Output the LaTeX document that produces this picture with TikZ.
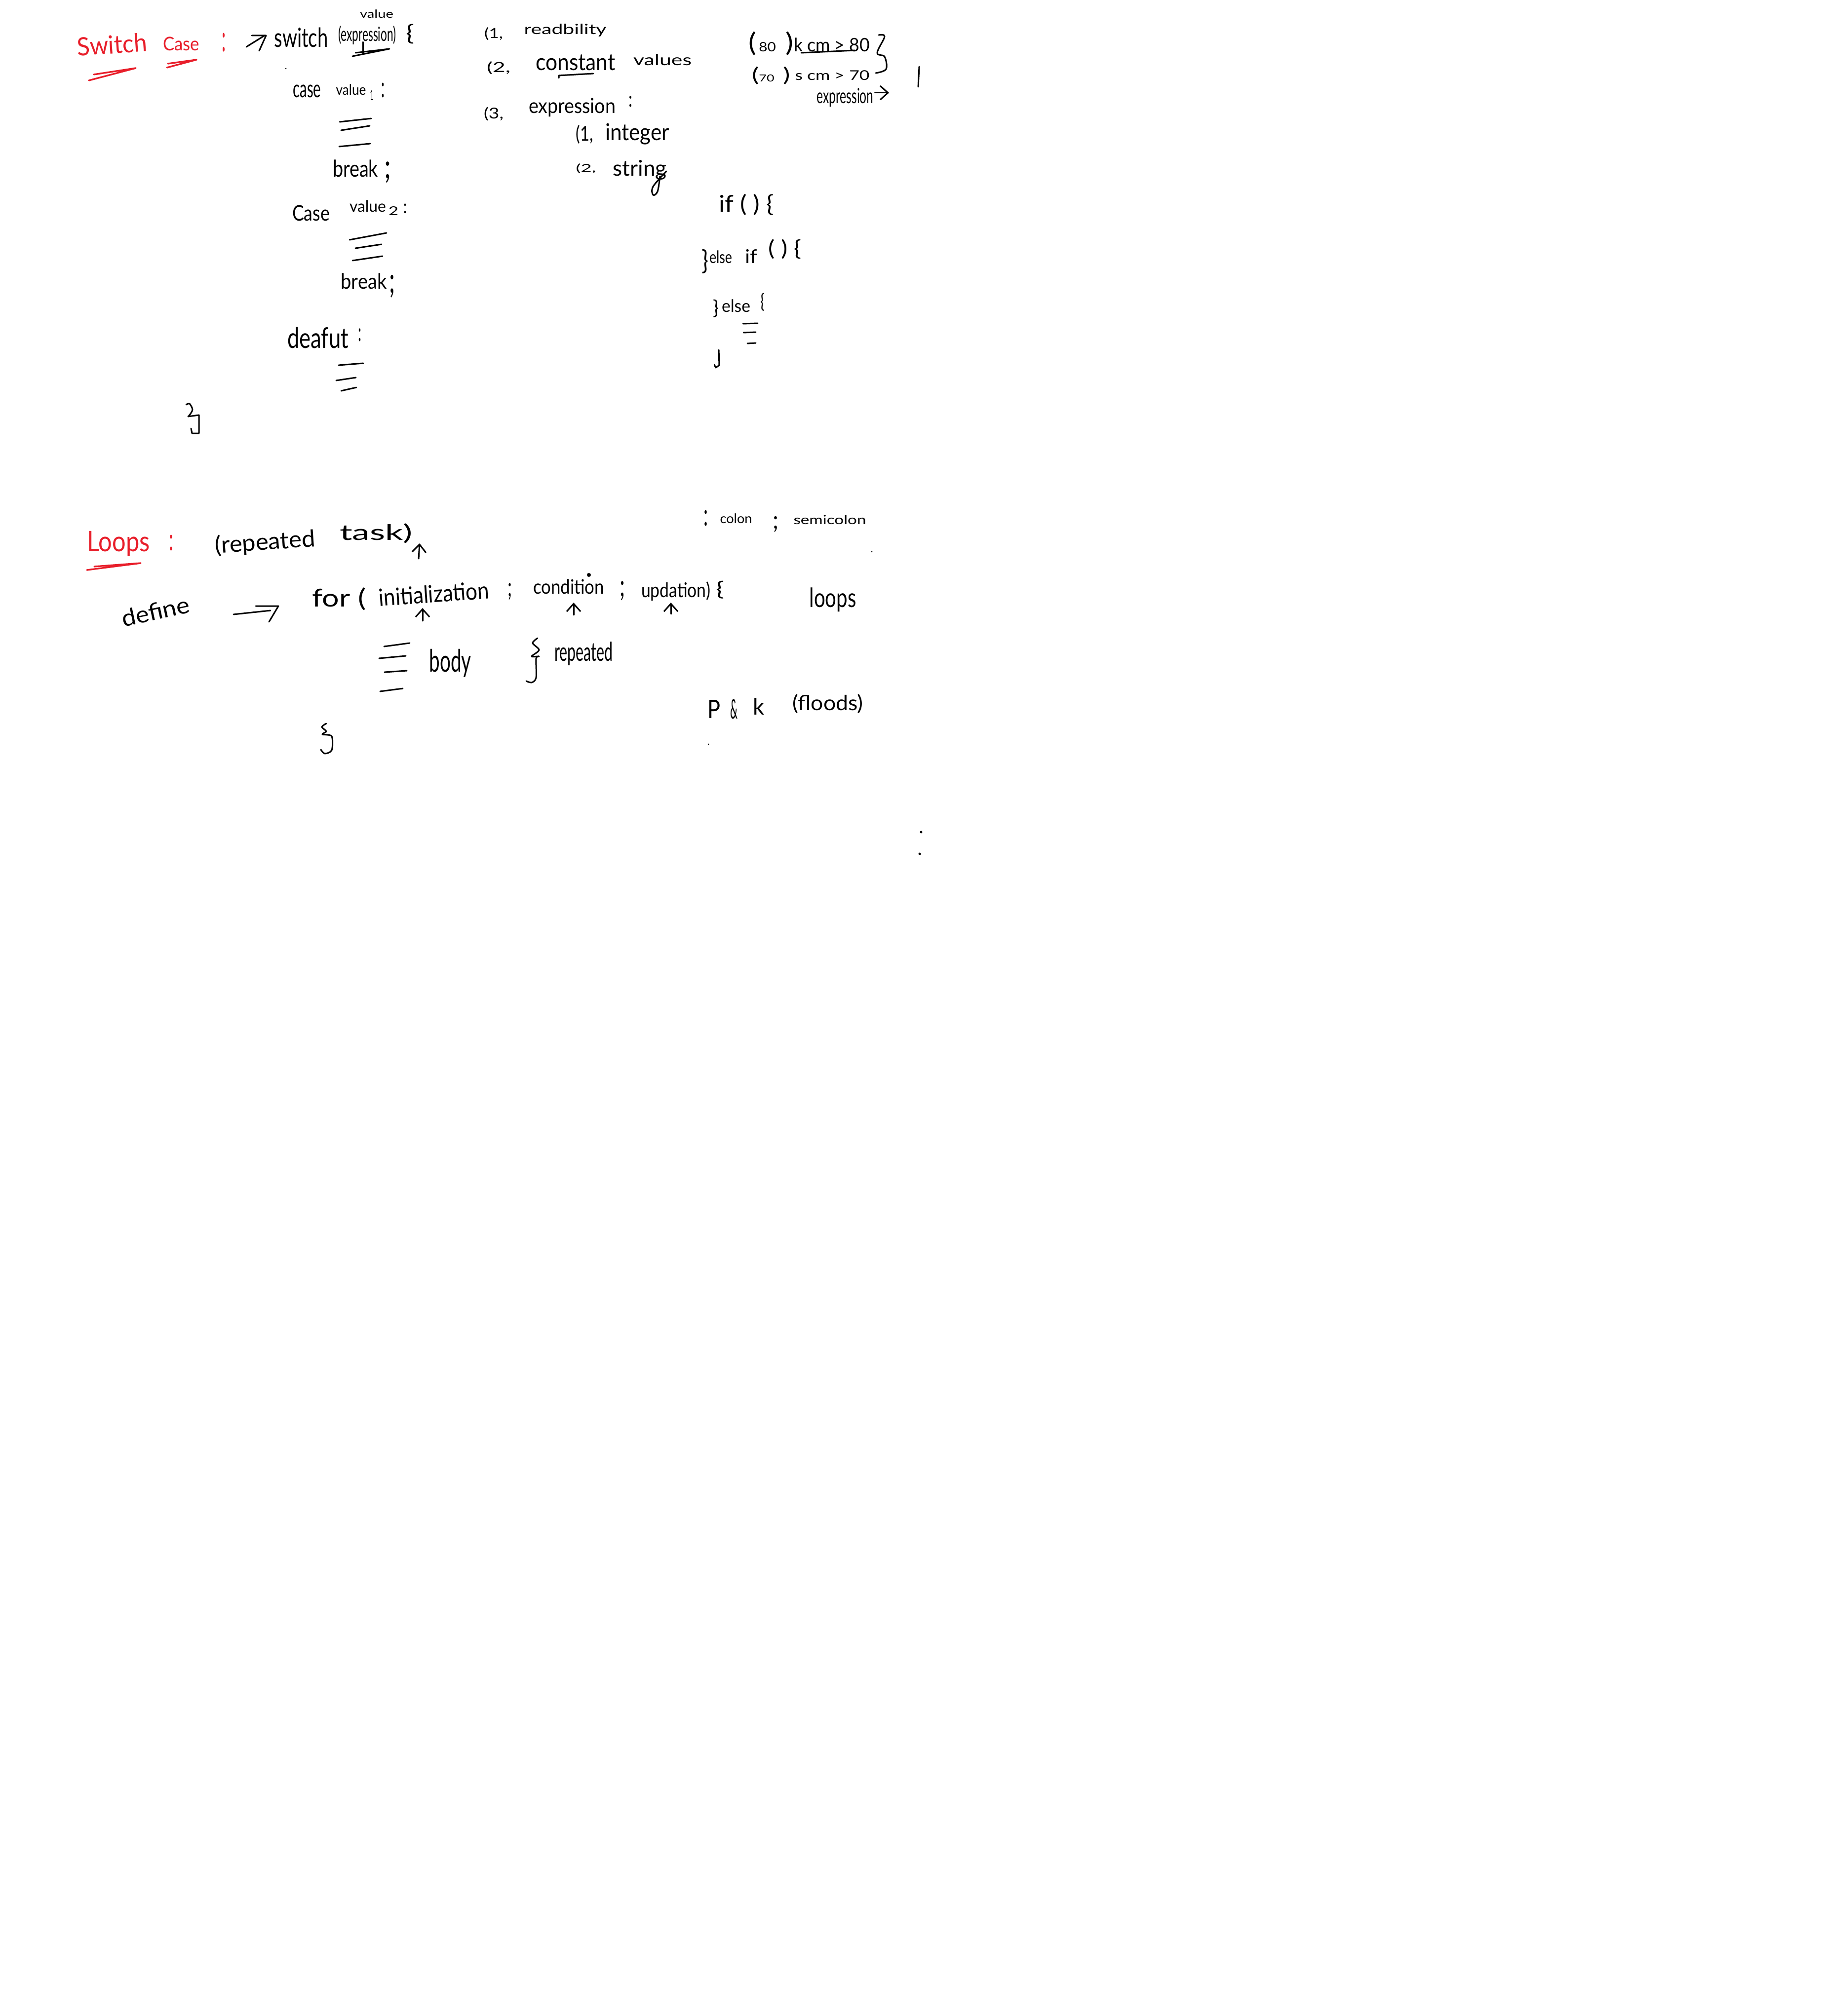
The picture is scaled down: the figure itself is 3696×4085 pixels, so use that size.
\documentclass[tikz,border=0pt]{standalone}
\usepackage{fontspec}
\usepackage{graphicx}
\setmainfont{Lato}
\usetikzlibrary{arrows.meta, positioning}
\definecolor{inkred}{RGB}{232,30,42}
\newdimen\pxunit
\pxunit=0.01cm
\newcommand{\fitto}[3]{\resizebox*{#1\pxunit}{#2\pxunit}{#3}}
\begin{document}
\begin{tikzpicture}[
        x=0.01cm, y=-0.01cm,
        hand/.style={inner sep=0pt, text=black},
        redhand/.style={inner sep=0pt, text=inkred},
        ink/.style={draw=black, line width=0.85pt, line cap=round, line join=round},
        redink/.style={draw=inkred, line width=0.95pt, line cap=round, line join=round},
        arr/.style={ink, -{Straight Barb[length=4.5pt, width=8pt]}},
        speck/.style={fill=black}
    ]
        \useasboundingbox (0,0) rectangle (3696,4085);
        % switch case heading
        \node[redhand, rotate=4] (switchhead) at (227,90) {\fitto{141}{38}{Switch}};
        \node[redhand] (casehead) at (367,89) {\fitto{74}{28}{Case}};
        \node[redhand] (headcolon) at (453,86) {\fitto{8}{38}{:}};
        \draw[redink] (180,163) -- (275,138) -- (190,151);
        \draw[redink] (338,137) -- (398,121) -- (340,129);
        \draw[ink] (499,95) -- (536,72);
        \draw[ink] (510,72) -- (539,72) -- (525,103);
        \node[hand] (switchword) at (610,76) {\fitto{109}{40}{switch}};
        \node[hand] (switchexpr) at (744,71) {\fitto{117}{38}{(expression)}};
        \node[hand] (valuetop) at (763,28) {\fitto{68}{17}{value}};
        \node[hand] (switchbrace) at (831,69) {\fitto{17}{40}{\{}};
        \draw[ink] (714,114) -- (789,99) -- (720,107);
        \draw[ink] (735,85) -- (735,110);
        \fill[speck] (579,139) circle (1.5);
        % first case
        \node[hand] (caseone) at (622,185) {\fitto{57}{26}{case}};
        \node[hand] (valueone) at (711,182) {\fitto{61}{22}{value}};
        \node[hand] (subone) at (753,193) {\fitto{7}{21}{1}};
        \node[hand] (colonone) at (776,183) {\fitto{7}{30}{:}};
        \draw[ink] (688,247) -- (752,240);
        \draw[ink] (691,264) -- (749,255);
        \draw[ink] (687,297) -- (750,291);
        \node[hand] (breakone) at (720,341) {\fitto{92}{35}{break}};
        \node[hand] (semibreakone) at (785,349) {\fitto{14}{43}{;}};
        % second case
        \node[hand] (casetwo) at (630,432) {\fitto{76}{32}{Case}};
        \node[hand] (valuetwo) at (745,418) {\fitto{74}{24}{value}};
        \node[hand] (subtwo) at (797,427) {\fitto{20}{18}{2}};
        \node[hand] (colontwo) at (821,423) {\fitto{7}{20}{:}};
        \draw[ink] (708,486) -- (783,472);
        \draw[ink] (720,503) -- (773,495);
        \draw[ink] (714,528) -- (775,519);
        \node[hand] (breaktwo) at (737,570) {\fitto{93}{32}{break}};
        \node[hand] (semibreaktwo) at (794,580) {\fitto{12}{46}{;}};
        % default case
        \node[hand] (deafut) at (644,684) {\fitto{124}{43}{deafut}};
        \node[hand] (colondeafut) at (729,679) {\fitto{7}{26}{:}};
        \draw[ink] (686,740) -- (736,736);
        \draw[ink] (681,771) -- (721,765);
        \draw[ink] (691,792) -- (722,785);
        \draw[ink] plot[smooth, tension=0.5] coordinates {(377,820) (384,818) (390,830) (384,841) (381,844)};
        \draw[ink] (381,844) -- (403,841) -- (403,878) -- (389,878) -- (387,868);
        % points on the right
        \node[hand] (numone) at (1000,69) {\fitto{38}{26}{(1,}};
        \node[hand] (readbility) at (1145,61) {\fitto{167}{26}{readbility}};
        \node[hand] (numtwo) at (1010,138) {\fitto{48}{26}{(2,}};
        \node[hand] (constant) at (1166,127) {\fitto{161}{32}{constant}};
        \node[hand] (values) at (1342,121) {\fitto{118}{23}{values}};
        \draw[ink] (1132,158) -- (1132,153) -- (1202,149);
        \node[hand] (numthree) at (1000,231) {\fitto{40}{28}{(3,}};
        \node[hand] (expression) at (1159,218) {\fitto{176}{38}{expression}};
        \node[hand] (colonexpr) at (1277,206) {\fitto{8}{22}{:}};
        \node[hand] (subnumone) at (1184,273) {\fitto{35}{38}{(1,}};
        \node[hand] (integer) at (1291,272) {\fitto{130}{43}{integer}};
        \node[hand] (subnumtwo) at (1187,342) {\fitto{41}{20}{(2,}};
        \node[hand] (string) at (1296,345) {\fitto{109}{40}{string}};
        \draw[ink] plot[smooth, tension=0.6] coordinates {(1350,347) (1323,378) (1323,395) (1332,388) (1337,357)};
        % marks example
        \node[hand] (eighty) at (1562,88) {\fitto{91}{48}{({\tiny\,80\,\,}\,)}};
        \node[hand] (eightyif) at (1685,91) {\fitto{154}{28}{k cm > 80}};
        \draw[ink] (1623,107) -- (1732,102);
        \draw[ink] plot[smooth, tension=0.6] coordinates {(1780,71) (1792,74) (1777,107) (1792,115) (1795,140) (1774,148)};
        \node[hand] (seventy) at (1562,153) {\fitto{78}{36}{({\tiny 70\,\,}\,)}};
        \node[hand] (seventyif) at (1686,153) {\fitto{151}{20}{s cm > 70}};
        \node[hand] (exprnote) at (1712,198) {\fitto{115}{38}{expression}};
        \coordinate (exprtail) at (1772,188);
        \coordinate (exprtip) at (1801,188);
        \draw[arr] (exprtail) -- (exprtip);
        \draw[ink] (1862,135) -- (1860,176);
        % if ladder
        \node[hand] (iflad) at (1512,415) {\fitto{112}{43}{if ( ) \{}};
        \node[hand] (elseifbrace) at (1428,530) {\fitto{14}{49}{\}}};
        \node[hand] (elseword) at (1460,521) {\fitto{46}{26}{else}};
        \node[hand] (ifword) at (1522,519) {\fitto{25}{28}{if}};
        \node[hand] (ifparens) at (1590,505) {\fitto{67}{40}{( ) \{}};
        \node[hand] (elsebrace) at (1450,625) {\fitto{12}{36}{\}}};
        \node[hand] (lastelse) at (1491,620) {\fitto{58}{26}{else}};
        \node[hand] (lastbrace) at (1545,612) {\fitto{9}{36}{\{}};
        \draw[ink] (1505,656) -- (1535,655);
        \draw[ink] (1506,674) -- (1531,673);
        \draw[ink] (1514,696) -- (1531,695);
        \draw[ink] (1456,709) -- (1457,740) -- (1450,745) -- (1447,739);
        % loops heading
        \node[redhand] (loopshead) at (240,1102) {\fitto{127}{51}{Loops}};
        \node[redhand] (loopscolon) at (347,1100) {\fitto{9}{32}{:}};
        \draw[redink] (176,1155) -- (285,1141) -- (191,1148);
        \node[hand, rotate=4] (repeatedtask) at (537,1100) {\fitto{203}{45}{(repeated}};
        \node[hand] (taskword) at (762,1081) {\fitto{148}{40}{task)}};
        \coordinate (tasktail) at (848,1132);
        \coordinate (tasktip) at (850,1101);
        \draw[arr] (tasktail) -- (tasktip);
        % for syntax
        \node[hand, rotate=12] (define) at (315,1239) {\fitto{140}{35}{define}};
        \draw[ink] (473,1245) -- (548,1237);
        \draw[ink] (518,1228) -- (564,1228) -- (545,1260);
        \node[hand] (forword) at (687,1214) {\fitto{109}{46}{for (}};
        \node[hand, rotate=4] (initialization) at (879,1203) {\fitto{224}{36}{initialization}};
        \node[hand] (semiinit) at (1033,1199) {\fitto{9}{34}{;}};
        \node[hand] (condition) at (1152,1189) {\fitto{144}{30}{condition}};
        \fill[speck] (1193,1165) circle (4);
        \node[hand] (semicond) at (1261,1197) {\fitto{11}{39}{;}};
        \node[hand] (updation) at (1369,1198) {\fitto{140}{39}{updation)}};
        \node[hand] (forbrace) at (1459,1195) {\fitto{17}{36}{\{}};
        \coordinate (inittail) at (856,1258);
        \coordinate (inittip) at (856,1232);
        \draw[arr] (inittail) -- (inittip);
        \coordinate (condtail) at (1162,1246);
        \coordinate (condtip) at (1162,1221);
        \draw[arr] (condtail) -- (condtip);
        \coordinate (updatail) at (1359,1244);
        \coordinate (updatip) at (1359,1221);
        \draw[arr] (updatail) -- (updatip);
        % body of the loop
        \draw[ink] (778,1310) -- (830,1303);
        \draw[ink] (768,1334) -- (822,1329);
        \draw[ink] (779,1362) -- (824,1359);
        \draw[ink] (770,1401) -- (816,1395);
        \node[hand] (bodyword) at (912,1344) {\fitto{85}{57}{body}};
        \draw[ink] plot[smooth, tension=0.5] coordinates {(1089,1293) (1079,1303) (1092,1317) (1077,1330) (1092,1330) (1086,1334) (1086,1373) (1077,1383) (1066,1380)};
        \node[hand] (repeatedword) at (1182,1325) {\fitto{118}{48}{repeated}};
        \draw[ink] plot[smooth, tension=0.5] coordinates {(661,1466) (652,1473) (661,1482) (653,1488) (672,1492) (672,1520) (658,1527) (650,1519)};
        % notes around the loop
        \node[hand] (colonmark) at (1430,1050) {\fitto{9}{32}{:}};
        \node[hand] (colonword) at (1491,1051) {\fitto{65}{20}{colon}};
        \node[hand] (semimark) at (1571,1062) {\fitto{12}{32}{;}};
        \node[hand] (semiword) at (1681,1053) {\fitto{147}{19}{semicolon}};
        \node[hand] (loopsword) at (1687,1215) {\fitto{95}{49}{loops}};
        \node[hand] (pword) at (1446,1437) {\fitto{26}{37}{P}};
        \node[hand] (andword) at (1487,1437) {\fitto{15}{40}{\&}};
        \node[hand] (kword) at (1537,1431) {\fitto{23}{34}{k}};
        \node[hand] (floods) at (1677,1426) {\fitto{143}{39}{(floods)}};
        % stray specks
        \fill[speck] (1766,1118) circle (1.5);
        \fill[speck] (1435,1508) circle (1.5);
        \fill[speck] (1866,1686) circle (2.5);
        \fill[speck] (1863,1730) circle (2.5);
    \end{tikzpicture}
\end{document}
